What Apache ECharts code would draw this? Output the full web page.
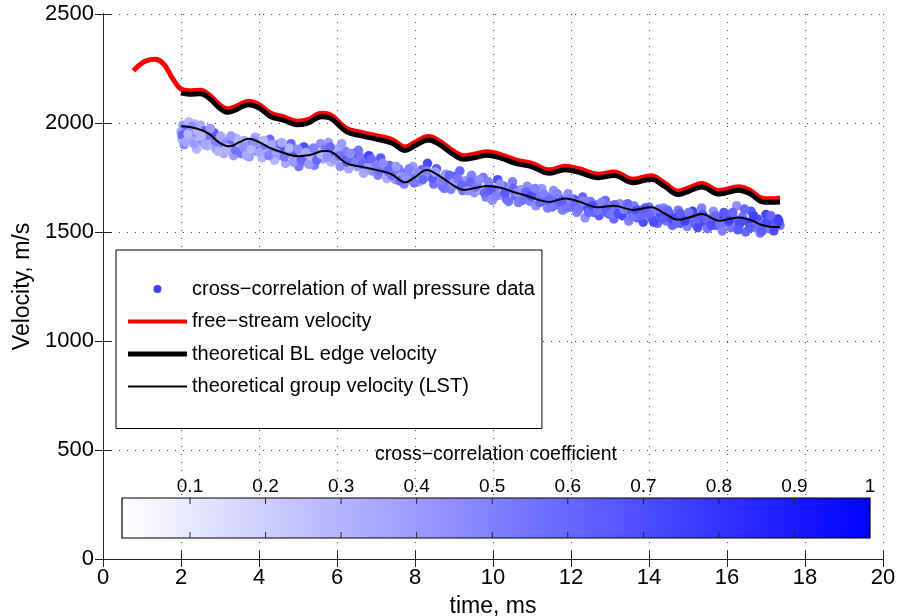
<!DOCTYPE html>
<html>
<head>
<meta charset="utf-8">
<script src="https://cdn.jsdelivr.net/npm/echarts@6/dist/echarts.min.js"></script>
<style>html,body{margin:0;padding:0;background:#fff;}#c{width:901px;height:616px;}</style>
</head>
<body>
<div id="c"></div>
<script>
// ---- data ----
const xTicks = [0, 2, 4, 6, 8, 10, 12, 14, 16, 18, 20];
const yTicks = [0, 500, 1000, 1500, 2000, 2500];
const cbTicks = [0.1, 0.2, 0.3, 0.4, 0.5, 0.6, 0.7, 0.8, 0.9, 1];

const freeStream = [[0.78,2240],[0.95,2268],[1.1,2285],[1.33,2292],[1.55,2272],[1.8,2200],[2.0,2155],[2.2,2148],[2.5,2150],[2.75,2125],[3.0,2082],[3.2,2065],[3.45,2080],[3.73,2100],[4.0,2085],[4.3,2045],[4.6,2030],[5.0,2008],[5.25,2015],[5.6,2045],[5.8,2040],[6.25,1975],[6.6,1958],[7.0,1942],[7.4,1925],[7.75,1890],[8.0,1912],[8.35,1938],[8.6,1920],[9.0,1870],[9.25,1850],[9.55,1858],[9.85,1868],[10.2,1855],[10.6,1830],[11.0,1815],[11.45,1785],[11.85,1802],[12.2,1790],[12.7,1765],[13.1,1775],[13.6,1742],[14.05,1758],[14.4,1725],[14.75,1688],[15.05,1705],[15.35,1722],[15.8,1690],[16.3,1708],[16.6,1690],[16.9,1655],[17.1,1652],[17.36,1656]];

const blEdge = [[2.0,2138],[2.2,2132],[2.5,2134],[2.75,2109],[3.0,2066],[3.2,2049],[3.45,2064],[3.73,2084],[4.0,2069],[4.3,2029],[4.6,2014],[5.0,1992],[5.25,1999],[5.6,2029],[5.8,2024],[6.25,1959],[6.6,1942],[7.0,1926],[7.4,1909],[7.75,1874],[8.0,1896],[8.35,1922],[8.6,1904],[9.0,1854],[9.25,1834],[9.55,1842],[9.85,1852],[10.2,1839],[10.6,1814],[11.0,1799],[11.45,1769],[11.85,1786],[12.2,1774],[12.7,1749],[13.1,1759],[13.6,1726],[14.05,1742],[14.4,1709],[14.75,1672],[15.05,1689],[15.35,1706],[15.8,1674],[16.3,1692],[16.6,1674],[16.9,1639],[17.1,1636],[17.36,1638]];

const groupVel = [[2.0,1985],[2.4,1975],[2.7,1952],[3.0,1908],[3.25,1893],[3.5,1912],[3.73,1928],[4.0,1912],[4.3,1884],[4.6,1865],[5.0,1848],[5.3,1853],[5.6,1870],[5.75,1872],[6.25,1815],[6.6,1800],[7.0,1785],[7.4,1765],[7.75,1728],[8.0,1752],[8.3,1784],[8.6,1760],[9.0,1712],[9.25,1693],[9.55,1702],[9.85,1711],[10.2,1703],[10.5,1685],[10.8,1670],[11.45,1638],[11.85,1654],[12.2,1640],[12.7,1613],[13.1,1620],[13.6,1601],[14.05,1614],[14.4,1585],[14.75,1556],[15.05,1568],[15.35,1582],[15.8,1552],[16.3,1567],[16.6,1555],[16.9,1532],[17.1,1524],[17.36,1522]];

// [time ms, velocity m/s, cross-correlation coefficient]
const pressurePoints = [[2.0,1960,0.35],[2.02,1925,0.3],[2.05,1990,0.4],[2.08,1900,0.45],[2.1,1945,0.25],[2.15,1975,0.55],[2.2,2005,0.3],[2.25,1930,0.35],[2.3,1960,0.5],[2.35,1995,0.3],[2.4,1880,0.3],[2.45,1945,0.4],[2.5,1990,0.35],[2.55,1915,0.45],[2.6,1965,0.6],[2.68,1895,0.3],[2.72,1940,0.55],[2.8,1905,0.3],[2.85,1955,0.65],[2.9,1880,0.4],[2.98,1925,0.3],[3.05,1890,0.5],[3.1,1860,0.35],[3.15,1915,0.45],[3.22,1875,0.3],[3.3,1905,0.6],[3.35,1850,0.4],[3.42,1930,0.3],[3.5,1885,0.45],[3.55,1860,0.55],[3.62,1920,0.35],[3.7,1875,0.3],[3.75,1845,0.4],[3.82,1905,0.5],[3.9,1935,0.35],[3.95,1870,0.6],[4.02,1910,0.4],[4.08,1840,0.3],[4.15,1895,0.55],[4.2,1860,0.35],[4.28,1925,0.6],[4.35,1875,0.45],[4.4,1830,0.3],[4.48,1900,0.55],[4.55,1850,0.4],[4.6,1880,0.65],[4.68,1815,0.35],[4.75,1865,0.5],[4.82,1905,0.6],[4.9,1835,0.4],[4.95,1870,0.65],[5.02,1800,0.55],[5.1,1850,0.35],[5.15,1890,0.7],[5.22,1820,0.45],[5.3,1875,0.6],[5.35,1845,0.3],[5.42,1805,0.5],[5.5,1860,0.4],[5.58,1905,0.45],[5.65,1835,0.35],[5.7,1880,0.55],[5.78,1910,0.4],[5.85,1820,0.3],[5.92,1860,0.6],[6.0,1880,0.35],[6.08,1800,0.45],[6.15,1845,0.65],[6.22,1870,0.5],[6.3,1790,0.35],[6.38,1835,0.6],[6.45,1860,0.7],[6.52,1800,0.4],[6.6,1845,0.55],[6.68,1770,0.35],[6.75,1825,0.6],[6.82,1850,0.75],[6.9,1780,0.45],[6.98,1815,0.35],[7.05,1760,0.5],[7.12,1840,0.65],[7.2,1790,0.4],[7.28,1745,0.35],[7.35,1805,0.6],[7.42,1770,0.5],[7.5,1740,0.45],[7.58,1790,0.55],[7.65,1755,0.4],[7.72,1720,0.5],[7.8,1775,0.6],[7.88,1740,0.45],[7.95,1800,0.4],[8.02,1755,0.55],[8.1,1730,0.35],[8.18,1785,0.6],[8.25,1750,0.5],[8.32,1815,0.7],[8.4,1765,0.4],[8.48,1720,0.55],[8.55,1790,0.65],[8.62,1745,0.45],[8.7,1710,0.6],[8.78,1765,0.4],[8.85,1730,0.55],[8.92,1695,0.5],[9.0,1755,0.65],[9.08,1715,0.45],[9.15,1780,0.6],[9.22,1690,0.55],[9.3,1735,0.4],[9.38,1700,0.65],[9.45,1760,0.5],[9.52,1680,0.45],[9.6,1725,0.6],[9.68,1690,0.35],[9.75,1750,0.55],[9.82,1660,0.5],[9.9,1710,0.65],[9.98,1645,0.45],[10.05,1695,0.55],[10.12,1740,0.7],[10.2,1670,0.4],[10.28,1710,0.55],[10.35,1650,0.6],[10.42,1690,0.45],[10.5,1730,0.5],[10.58,1665,0.6],[10.65,1635,0.5],[10.72,1695,0.4],[10.8,1660,0.65],[10.88,1710,0.45],[10.95,1640,0.5],[11.02,1680,0.6],[11.1,1620,0.45],[11.18,1665,0.55],[11.25,1700,0.4],[11.32,1640,0.65],[11.4,1610,0.5],[11.48,1660,0.55],[11.55,1690,0.45],[11.62,1625,0.6],[11.7,1655,0.7],[11.78,1600,0.5],[11.85,1640,0.6],[11.92,1675,0.45],[12.0,1615,0.55],[12.08,1650,0.65],[12.15,1590,0.5],[12.22,1630,0.4],[12.3,1660,0.6],[12.36,1565,0.45],[12.42,1610,0.7],[12.5,1640,0.55],[12.58,1590,0.6],[12.65,1625,0.5],[12.72,1575,0.65],[12.8,1610,0.45],[12.88,1645,0.6],[12.95,1585,0.7],[13.02,1620,0.5],[13.1,1560,0.6],[13.18,1600,0.55],[13.25,1630,0.45],[13.32,1575,0.7],[13.4,1610,0.55],[13.48,1550,0.5],[13.55,1590,0.65],[13.62,1620,0.5],[13.7,1565,0.6],[13.78,1600,0.55],[13.85,1545,0.7],[13.92,1580,0.45],[14.0,1615,0.55],[14.08,1560,0.65],[14.15,1595,0.5],[14.22,1540,0.6],[14.3,1575,0.7],[14.38,1610,0.5],[14.45,1550,0.55],[14.52,1585,0.65],[14.6,1530,0.6],[14.68,1565,0.75],[14.75,1600,0.55],[14.82,1540,0.65],[14.9,1575,0.7],[14.98,1525,0.5],[15.05,1560,0.6],[15.12,1595,0.75],[15.2,1535,0.55],[15.28,1570,0.65],[15.35,1610,0.5],[15.42,1545,0.7],[15.5,1515,0.55],[15.58,1560,0.6],[15.65,1595,0.45],[15.72,1530,0.65],[15.8,1565,0.75],[15.88,1505,0.5],[15.95,1545,0.6],[16.02,1580,0.7],[16.1,1520,0.55],[16.18,1560,0.6],[16.25,1620,0.45],[16.32,1535,0.7],[16.4,1570,0.55],[16.48,1500,0.6],[16.55,1545,0.75],[16.62,1595,0.65],[16.7,1520,0.5],[16.78,1560,0.7],[16.85,1495,0.55],[16.92,1540,0.6],[17.0,1580,0.75],[17.08,1515,0.5],[17.15,1550,0.7],[17.22,1525,0.6],[17.3,1560,0.8],[17.36,1530,0.55],
[2.03,1945,0.6],[2.12,1915,0.35],[2.18,1950,0.3],[2.28,1985,0.45],[2.33,1905,0.4],[2.42,1965,0.3],[2.52,1940,0.3],[2.62,1900,0.35],[2.75,1975,0.4],[2.88,1915,0.5],[2.95,1870,0.3],[3.02,1940,0.35],[3.18,1885,0.3],[3.28,1940,0.4],[3.4,1875,0.55],[3.48,1910,0.3],[3.6,1890,0.45],[3.68,1850,0.35],[3.8,1880,0.3],[3.88,1915,0.45],[4.0,1865,0.35],[4.12,1920,0.3],[4.25,1850,0.5],[4.32,1900,0.35],[4.45,1865,0.4],[4.58,1910,0.35],[4.65,1845,0.55],[4.78,1885,0.3],[4.88,1820,0.4],[5.0,1880,0.45],[5.08,1830,0.6],[5.2,1865,0.35],[5.28,1810,0.4],[5.4,1885,0.5],[5.48,1830,0.6],[5.6,1855,0.3],[5.75,1845,0.45],[5.82,1890,0.6],[5.95,1830,0.4],[6.05,1850,0.55],[6.12,1905,0.4],[6.25,1820,0.6],[6.35,1860,0.45],[6.48,1820,0.5],[6.55,1875,0.55],[6.65,1810,0.6],[6.78,1795,0.4],[6.88,1835,0.6],[7.0,1800,0.5],[7.08,1775,0.55],[7.18,1815,0.45],[7.3,1780,0.6],[7.4,1760,0.55],[7.52,1800,0.4],[7.62,1735,0.6],[7.75,1755,0.45],[7.85,1790,0.5],[7.98,1725,0.55],[8.08,1770,0.45],[8.2,1740,0.6],[8.3,1780,0.5],[8.45,1745,0.65],[8.52,1775,0.4],[8.65,1730,0.5],[8.75,1700,0.55],[8.88,1760,0.6],[8.98,1725,0.4],[9.1,1745,0.55],[9.2,1715,0.6],[9.35,1690,0.45],[9.42,1730,0.6],[9.55,1705,0.55],[9.65,1740,0.45],[9.78,1680,0.6],[9.88,1730,0.5],[9.95,1690,0.65],[10.08,1665,0.5],[10.18,1720,0.45],[10.3,1680,0.65],[10.4,1640,0.55],[10.52,1700,0.6],[10.62,1680,0.45],[10.75,1645,0.55],[10.85,1685,0.6],[10.98,1665,0.7],[11.08,1700,0.5],[11.2,1635,0.6],[11.3,1675,0.5],[11.42,1645,0.6],[11.52,1615,0.55],[11.65,1675,0.5],[11.75,1640,0.65],[11.88,1610,0.55],[11.98,1650,0.5],[12.1,1625,0.6],[12.2,1605,0.55],[12.32,1640,0.5],[12.45,1590,0.6],[12.55,1620,0.7],[12.68,1600,0.55],[12.78,1635,0.5],[12.9,1605,0.65],[13.0,1580,0.55],[13.12,1625,0.6],[13.22,1585,0.7],[13.35,1605,0.5],[13.45,1630,0.6],[13.58,1570,0.55],[13.68,1600,0.7],[13.8,1575,0.6],[13.9,1610,0.65],[14.02,1580,0.6],[14.12,1545,0.7],[14.25,1605,0.55],[14.35,1560,0.65],[14.48,1600,0.6],[14.58,1560,0.7],[14.7,1540,0.6],[14.8,1585,0.65],[14.92,1550,0.75],[15.02,1590,0.55],[15.15,1545,0.6],[15.25,1520,0.7],[15.38,1580,0.65],[15.48,1560,0.6],[15.6,1530,0.7],[15.7,1575,0.6],[15.82,1540,0.55],[15.92,1590,0.65],[16.05,1550,0.75],[16.15,1590,0.6],[16.28,1510,0.65],[16.38,1550,0.7],[16.45,1605,0.6],[16.58,1520,0.65],[16.68,1575,0.75],[16.8,1530,0.6],[16.9,1505,0.65],[17.02,1545,0.7],[17.12,1575,0.6],[17.2,1505,0.7],[17.28,1540,0.65],[17.33,1550,0.75]];

const colorRange = [0.01, 1];

// ---- chart ----
const FONT = 'Liberation Sans';
const chart = echarts.init(document.getElementById('c'), null, {renderer: 'canvas'});
const axisLineStyle = {color: '#222', width: 1};
const dotted = {color: '#444', width: 1, type: [1, 7]};

const option = {
  backgroundColor: '#fff',
  animation: false,
  textStyle: {fontFamily: FONT, color: '#000'},
  grid: [
    {left: 103, top: 14, width: 780, height: 545, show: false, containLabel: false, outerBoundsMode: 'none'},
    {left: 122, top: 498, width: 748, height: 40, show: false, containLabel: false, outerBoundsMode: 'none'}
  ],
  visualMap: {
    show: false, seriesIndex: 0, dimension: 2,
    min: colorRange[0], max: colorRange[1],
    inRange: {color: ['#ffffff', '#0000ff']}
  },
  legend: {
    orient: 'vertical', left: 116, top: 250,
    padding: [29, 7, 32, 12],
    itemWidth: 59, itemHeight: 14, itemGap: 12.5,
    backgroundColor: '#fff', borderColor: '#000', borderWidth: 1,
    textStyle: {fontFamily: FONT, fontSize: 20, color: '#000'},
    data: [
      {name: 'cross−correlation of wall pressure data',
       icon: 'path://M0,7L0.01,7M25.5,7a4,4 0 1,0 8,0a4,4 0 1,0 -8,0M59,7L59.01,7',
       itemStyle: {color: '#4040ff'}},
      {name: 'free−stream velocity', icon: 'path://M0,0L59,0L59,4L0,4Z', itemStyle: {color: '#ff0000'}},
      {name: 'theoretical BL edge velocity', icon: 'path://M0,0L59,0L59,5L0,5Z', itemStyle: {color: '#000'}},
      {name: 'theoretical group velocity (LST)', icon: 'path://M0,0L59,0L59,1.8L0,1.8Z', itemStyle: {color: '#000'}}
    ]
  },
  xAxis: [
    {
      type: 'value', gridIndex: 0, min: 0, max: 20, interval: 2, position: 'bottom',
      name: 'time, ms', nameLocation: 'middle', nameGap: 36,
      nameTextStyle: {fontFamily: FONT, fontSize: 23, color: '#000'},
      axisLine: {show: true, lineStyle: axisLineStyle},
      axisTick: {show: true, inside: true, length: 8, lineStyle: axisLineStyle},
      axisLabel: {fontFamily: FONT, fontSize: 22, color: '#000', margin: 8,
        customValues: xTicks, formatter: v => String(v)},
      splitLine: {show: true, lineStyle: dotted}
    },
    {
      type: 'value', gridIndex: 0, min: 0, max: 20, interval: 2, position: 'top',
      axisLine: {show: true, lineStyle: axisLineStyle},
      axisTick: {show: true, inside: true, length: 8, lineStyle: axisLineStyle},
      axisLabel: {show: false}, splitLine: {show: false}
    },
    {
      type: 'value', gridIndex: 1, min: colorRange[0], max: colorRange[1], position: 'top', z: 10,
      name: 'cross−correlation coefficient', nameLocation: 'middle', nameGap: 33,
      nameTextStyle: {fontFamily: FONT, fontSize: 19.5, color: '#000'},
      axisLine: {show: false},
      axisTick: {show: false},
      axisLabel: {show: true, fontFamily: FONT, fontSize: 19, color: '#000', margin: 2,
        customValues: cbTicks, formatter: v => String(v)},
      splitLine: {show: false}
    }
  ],
  yAxis: [
    {
      type: 'value', gridIndex: 0, min: 0, max: 2500, interval: 500, position: 'left',
      name: 'Velocity, m/s', nameLocation: 'middle', nameGap: 69,
      nameTextStyle: {fontFamily: FONT, fontSize: 23, color: '#000'},
      axisLine: {show: true, lineStyle: axisLineStyle},
      axisTick: {show: true, inside: true, length: 8, lineStyle: axisLineStyle},
      axisLabel: {fontFamily: FONT, fontSize: 22, color: '#000', margin: 9,
        customValues: yTicks, formatter: v => String(v)},
      splitLine: {show: true, lineStyle: dotted}
    },
    {
      type: 'value', gridIndex: 0, min: 0, max: 2500, interval: 500, position: 'right',
      axisLine: {show: true, lineStyle: axisLineStyle},
      axisTick: {show: true, inside: true, length: 8, lineStyle: axisLineStyle},
      axisLabel: {show: false}, splitLine: {show: false}
    },
    {type: 'value', gridIndex: 1, min: 0, max: 1, show: false}
  ],
  series: [
    {
      name: 'cross−correlation of wall pressure data', type: 'scatter',
      xAxisIndex: 0, yAxisIndex: 0, data: pressurePoints,
      symbol: 'circle', symbolSize: 9.5, itemStyle: {opacity: 1}, z: 2
    },
    {
      name: 'free−stream velocity', type: 'line', xAxisIndex: 0, yAxisIndex: 0,
      data: freeStream, symbol: 'none', smooth: 0.4,
      lineStyle: {color: '#ff0000', width: 5}, itemStyle: {color: '#ff0000'}, z: 3
    },
    {
      name: 'theoretical BL edge velocity', type: 'line', xAxisIndex: 0, yAxisIndex: 0,
      data: blEdge, symbol: 'none', smooth: 0.4,
      lineStyle: {color: '#000', width: 5}, itemStyle: {color: '#000'}, z: 3
    },
    {
      name: 'theoretical group velocity (LST)', type: 'line', xAxisIndex: 0, yAxisIndex: 0,
      data: groupVel, symbol: 'none', smooth: 0.4,
      lineStyle: {color: '#000', width: 2}, itemStyle: {color: '#000'}, z: 4
    },
    {
      name: 'colorbar', type: 'custom', xAxisIndex: 2, yAxisIndex: 2,
      data: [[colorRange[0], 0, colorRange[1], 1]], silent: true, z: 5,
      renderItem: function (params, api) {
        const p0 = api.coord([api.value(0), api.value(3)]);
        const p1 = api.coord([api.value(2), api.value(1)]);
        const children = [{
          type: 'rect',
          shape: {x: p0[0], y: p0[1], width: p1[0] - p0[0], height: p1[1] - p0[1]},
          style: {
            fill: new echarts.graphic.LinearGradient(0, 0, 1, 0, [
              {offset: 0, color: '#ffffff'}, {offset: 1, color: '#0000ff'}
            ]),
            stroke: '#000', lineWidth: 1.2
          }
        }];
        cbTicks.forEach(function (t) {
          if (t >= api.value(2)) return;
          const top = api.coord([t, api.value(3)]);
          const bot = api.coord([t, api.value(1)]);
          children.push({type: 'line', shape: {x1: top[0], y1: top[1], x2: top[0], y2: top[1] + 6},
            style: {stroke: '#222', lineWidth: 1}});
          children.push({type: 'line', shape: {x1: bot[0], y1: bot[1], x2: bot[0], y2: bot[1] - 6},
            style: {stroke: '#222', lineWidth: 1}});
        });
        return {type: 'group', children: children};
      }
    }
  ]
};
chart.setOption(option);
</script>
</body>
</html>
